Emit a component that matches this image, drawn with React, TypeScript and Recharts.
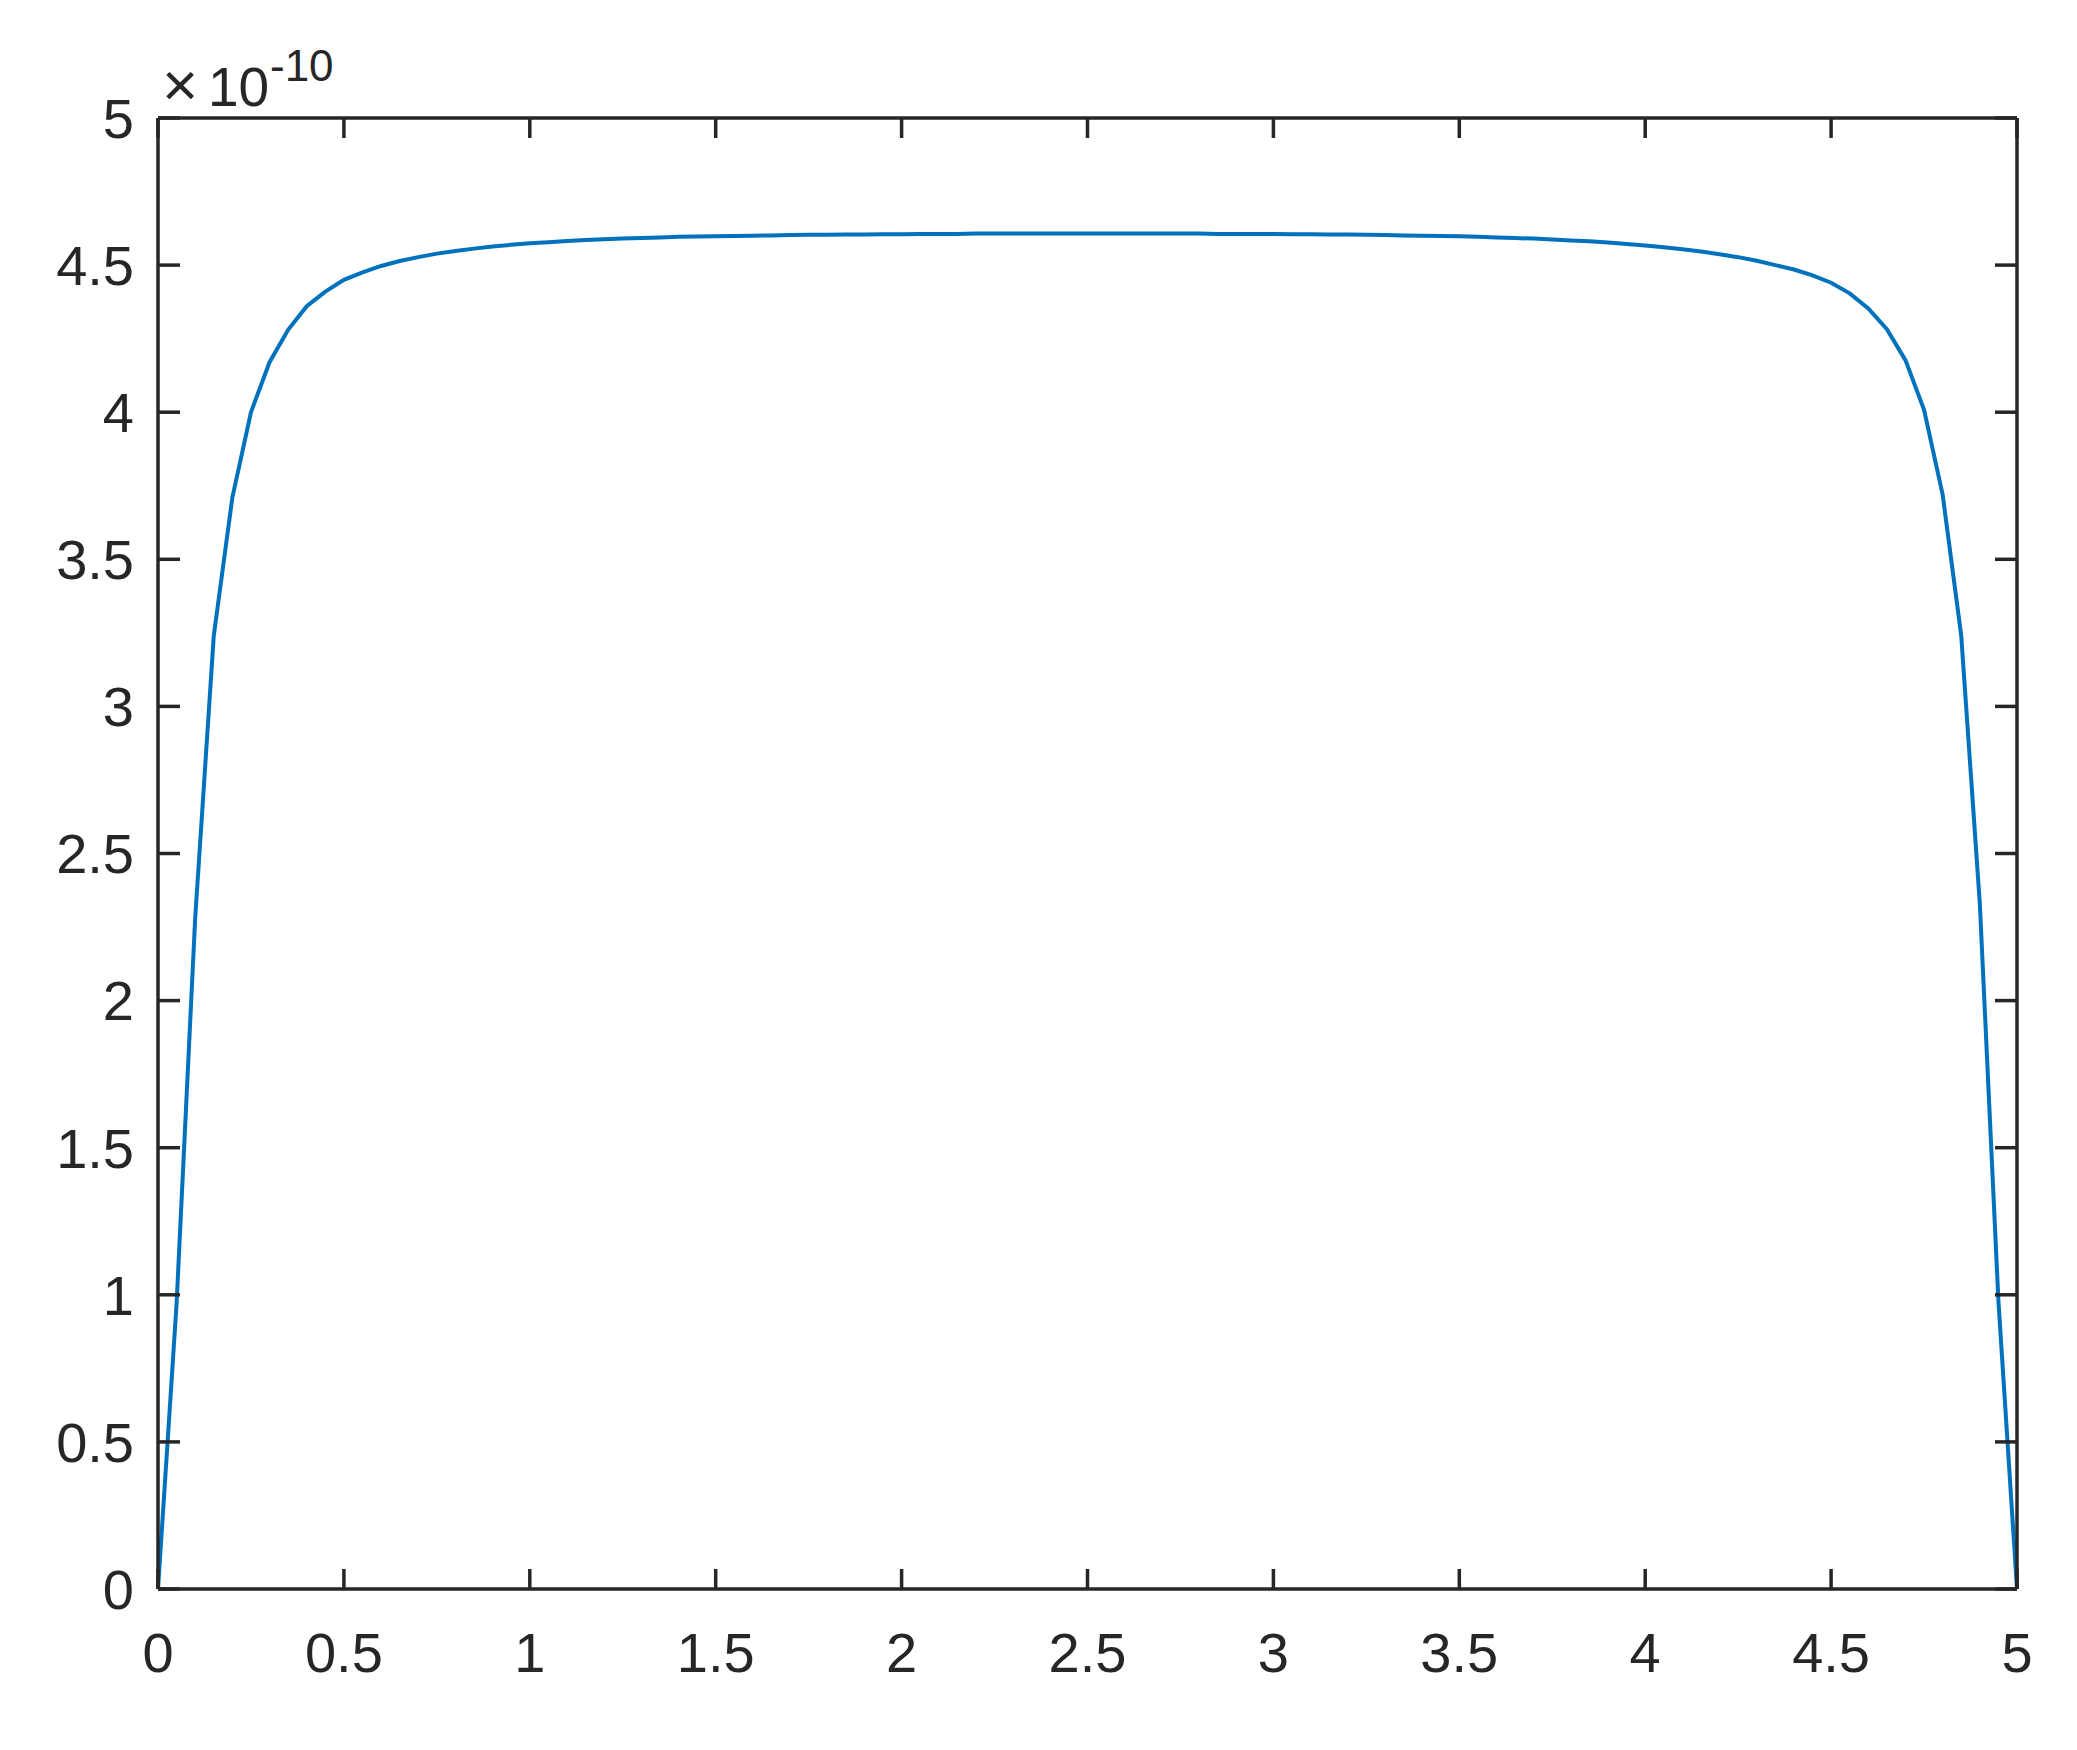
import { LineChart, Line, XAxis, YAxis } from "recharts";

// x positions (sampled every 0.05)
const xs = [
  0, 0.05, 0.1, 0.15, 0.2, 0.25, 0.3, 0.35, 0.4, 0.45,
  0.5, 0.55, 0.6, 0.65, 0.7, 0.75, 0.8, 0.85, 0.9, 0.95,
  1, 1.05, 1.1, 1.15, 1.2, 1.25, 1.3, 1.35, 1.4, 1.45,
  1.5, 1.55, 1.6, 1.65, 1.7, 1.75, 1.8, 1.85, 1.9, 1.95,
  2, 2.05, 2.1, 2.15, 2.2, 2.25, 2.3, 2.35, 2.4, 2.45,
  2.5, 2.55, 2.6, 2.65, 2.7, 2.75, 2.8, 2.85, 2.9, 2.95,
  3, 3.05, 3.1, 3.15, 3.2, 3.25, 3.3, 3.35, 3.4, 3.45,
  3.5, 3.55, 3.6, 3.65, 3.7, 3.75, 3.8, 3.85, 3.9, 3.95,
  4, 4.05, 4.1, 4.15, 4.2, 4.25, 4.3, 4.35, 4.4, 4.45,
  4.5, 4.55, 4.6, 4.65, 4.7, 4.75, 4.8, 4.85, 4.9, 4.95,
  5,
];

// values in units of 1e-10
const ys = [
  0, 0.97, 2.28, 3.24, 3.71, 4.0, 4.17, 4.28, 4.36, 4.41,
  4.45, 4.475, 4.497, 4.514, 4.527, 4.539, 4.548, 4.556, 4.563, 4.569,
  4.574, 4.578, 4.582, 4.585, 4.588, 4.59, 4.592, 4.594, 4.596, 4.597,
  4.598, 4.599, 4.6, 4.601, 4.602, 4.603, 4.603, 4.604, 4.604, 4.605,
  4.605, 4.606, 4.606, 4.606, 4.607, 4.607, 4.607, 4.607, 4.607, 4.607,
  4.607, 4.607, 4.607, 4.607, 4.607, 4.607, 4.607, 4.606, 4.606, 4.606,
  4.606, 4.605, 4.605, 4.604, 4.604, 4.603, 4.602, 4.601, 4.6, 4.599,
  4.598, 4.596, 4.594, 4.592, 4.59, 4.587, 4.584, 4.581, 4.577, 4.572,
  4.567, 4.561, 4.554, 4.546, 4.537, 4.527, 4.515, 4.5, 4.485, 4.465,
  4.44, 4.404, 4.353, 4.282, 4.177, 4.008, 3.72, 3.24, 2.33, 0.98,
  0,
];

const xTicks = [0, 0.5, 1, 1.5, 2, 2.5, 3, 3.5, 4, 4.5, 5];
const yTicks = [0, 0.5, 1, 1.5, 2, 2.5, 3, 3.5, 4, 4.5, 5];
const exponent = "-10";

const data = xs.map((x, i) => ({ x, y: ys[i] }));

const ink = "#262626";
const font = "'Liberation Sans', Arial, Helvetica, sans-serif";
const tickStyle = { fill: ink, fontSize: 56, fontFamily: font };
const axisLine = { stroke: ink, strokeWidth: 3.5 };
const noLabel = () => <g />;

const css = `
.recharts-cartesian-axis-line, .recharts-cartesian-axis-tick-line {
  stroke: ${ink};
  stroke-width: 3.5px;
}
`;

export default function App() {
  return (
    <div style={{ position: "absolute", left: 0, top: 0, width: 2077, height: 1750, background: "#fff" }}>
      <style>{css}</style>
      <LineChart width={2077} height={1750} data={data} margin={{ top: 117, right: 59, bottom: 61, left: 38 }}>
        <XAxis
          dataKey="x"
          type="number"
          domain={[0, 5]}
          ticks={xTicks}
          interval={0}
          height={100}
          tickSize={-20}
          tickMargin={63}
          tick={tickStyle}
          tickLine={axisLine}
          axisLine={axisLine}
        />
        <XAxis
          xAxisId="top"
          dataKey="x"
          orientation="top"
          type="number"
          domain={[0, 5]}
          allowDataOverflow
          ticks={xTicks}
          interval={0}
          height={1}
          tickSize={-20}
          tick={noLabel}
          tickLine={axisLine}
          axisLine={axisLine}
        />
        <YAxis
          type="number"
          domain={[0, 5]}
          ticks={yTicks}
          interval={0}
          width={120}
          tickSize={-22}
          tickMargin={46}
          tick={tickStyle}
          tickLine={axisLine}
          axisLine={axisLine}
        />
        <YAxis
          yAxisId="right"
          dataKey="y"
          orientation="right"
          type="number"
          domain={[0, 5]}
          allowDataOverflow
          ticks={yTicks}
          interval={0}
          width={1}
          tickSize={-22}
          tick={noLabel}
          tickLine={axisLine}
          axisLine={axisLine}
        />
        <Line
          type="linear"
          dataKey="y"
          stroke="#0072BD"
          strokeWidth={4}
          dot={false}
          activeDot={false}
          isAnimationActive={false}
        />
      </LineChart>
      <svg
        width={2077}
        height={140}
        style={{ position: "absolute", left: 0, top: 0, pointerEvents: "none" }}
      >
        <text x={162} y={106} fill={ink} fontSize={62} fontFamily={font}>×</text>
        <text x={208} y={106} fill={ink} fontSize={55} fontFamily={font}>10</text>
        <text x={270} y={81} fill={ink} fontSize={44} fontFamily={font}>{exponent}</text>
      </svg>
    </div>
  );
}
